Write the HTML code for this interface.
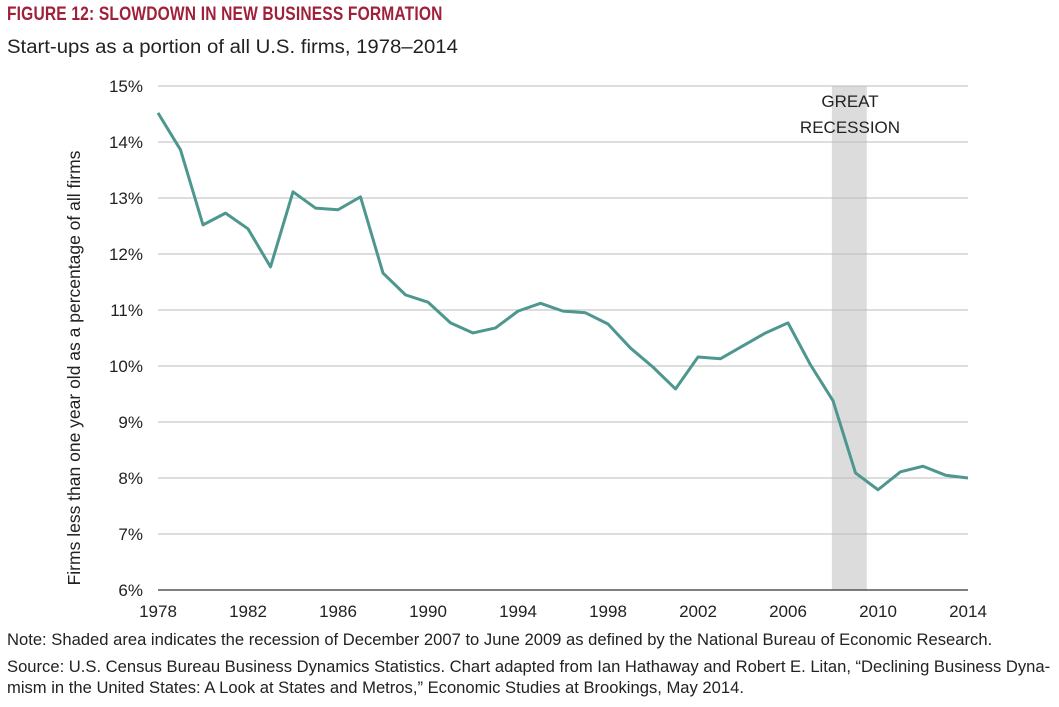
<!DOCTYPE html>
<html><head><meta charset="utf-8"><style>
body{margin:0;background:#fff;width:1059px;height:707px;overflow:hidden;font-family:"Liberation Sans",sans-serif;}
#title{position:absolute;left:7px;top:4px;font-size:19px;font-weight:bold;color:#a0203a;transform:scaleX(0.82);transform-origin:left;letter-spacing:0.2px}
#sub{position:absolute;left:7px;top:37px;font-size:19px;color:#222;transform:scaleX(1.07);transform-origin:left}
.note{position:absolute;left:7px;font-size:16.6px;color:#222;line-height:21px;white-space:nowrap}
svg{position:absolute;left:0;top:0}
</style></head><body>
<div id="title">FIGURE 12: SLOWDOWN IN NEW BUSINESS FORMATION</div>
<div id="sub">Start-ups as a portion of all U.S. firms, 1978–2014</div>
<svg id="chart" width="1059" height="707"></svg>
<div class="note" style="top:629px">Note: Shaded area indicates the recession of December 2007 to June 2009 as defined by the National Bureau of Economic Research.</div>
<div class="note" style="top:656px">Source: U.S. Census Bureau Business Dynamics Statistics. Chart adapted from Ian Hathaway and Robert E. Litan, “Declining Business Dyna-<br>mism in the United States: A Look at States and Metros,” Economic Studies at Brookings, May 2014.</div>
<script>
const years=[1978,1979,1980,1981,1982,1983,1984,1985,1986,1987,1988,1989,1990,1991,1992,1993,1994,1995,1996,1997,1998,1999,2000,2001,2002,2003,2004,2005,2006,2007,2008,2009,2010,2011,2012,2013,2014];
const values=[14.52,13.86,12.52,12.73,12.45,11.77,13.11,12.82,12.79,13.02,11.66,11.27,11.14,10.77,10.59,10.68,10.98,11.12,10.98,10.95,10.75,10.32,9.98,9.59,10.16,10.13,10.36,10.59,10.77,10.02,9.38,8.09,7.79,8.11,8.21,8.05,8.0];
const yTicks=[6,7,8,9,10,11,12,13,14,15];
const xTicks=[1978,1982,1986,1990,1994,1998,2002,2006,2010,2014];
const recession=[2007.95,2009.5];
const NS="http://www.w3.org/2000/svg",svg=document.getElementById('chart');
const X=y=>158+(y-1978)*(968-158)/36, Y=v=>590-(v-6)*56;
function mk(t,a,txt){const e=document.createElementNS(NS,t);for(const k in a)e.setAttribute(k,a[k]);if(txt!=null)e.textContent=txt;svg.appendChild(e);return e;}
let r=mk('rect',{x:X(recession[0]),y:Y(15),width:X(recession[1])-X(recession[0]),height:Y(6)-Y(15),fill:'#dcdcdc'});

yTicks.forEach(v=>{
 let l=mk('line',{x1:158,x2:968,y1:Y(v),y2:Y(v),stroke:v==6?'#555':'#bbb','stroke-width':v==6?1.5:1});
 
 let t=mk('text',{x:143,y:Y(v)+6,'text-anchor':'end','font-size':17,fill:'#222'},v+'%');
 
});
xTicks.forEach(v=>{
 let t=mk('text',{x:X(v),y:617,'text-anchor':'middle','font-size':17,fill:'#222'},v);
 
});
let yt=mk('text',{x:80,y:368,'text-anchor':'middle','font-size':17.5,fill:'#222',transform:'rotate(-90 80 368)'},'Firms less than one year old as a percentage of all firms');

let a1=mk('text',{x:850,y:107,'text-anchor':'middle','font-size':17,fill:'#222'},'GREAT');

let a2=mk('text',{x:850,y:133,'text-anchor':'middle','font-size':17,fill:'#222'},'RECESSION');

let p=mk('polyline',{points:years.map((y,i)=>X(y)+','+Y(values[i])).join(' '),fill:'none',stroke:'#4d978f','stroke-width':3,'stroke-linejoin':'round'});

</script>
</body></html>
